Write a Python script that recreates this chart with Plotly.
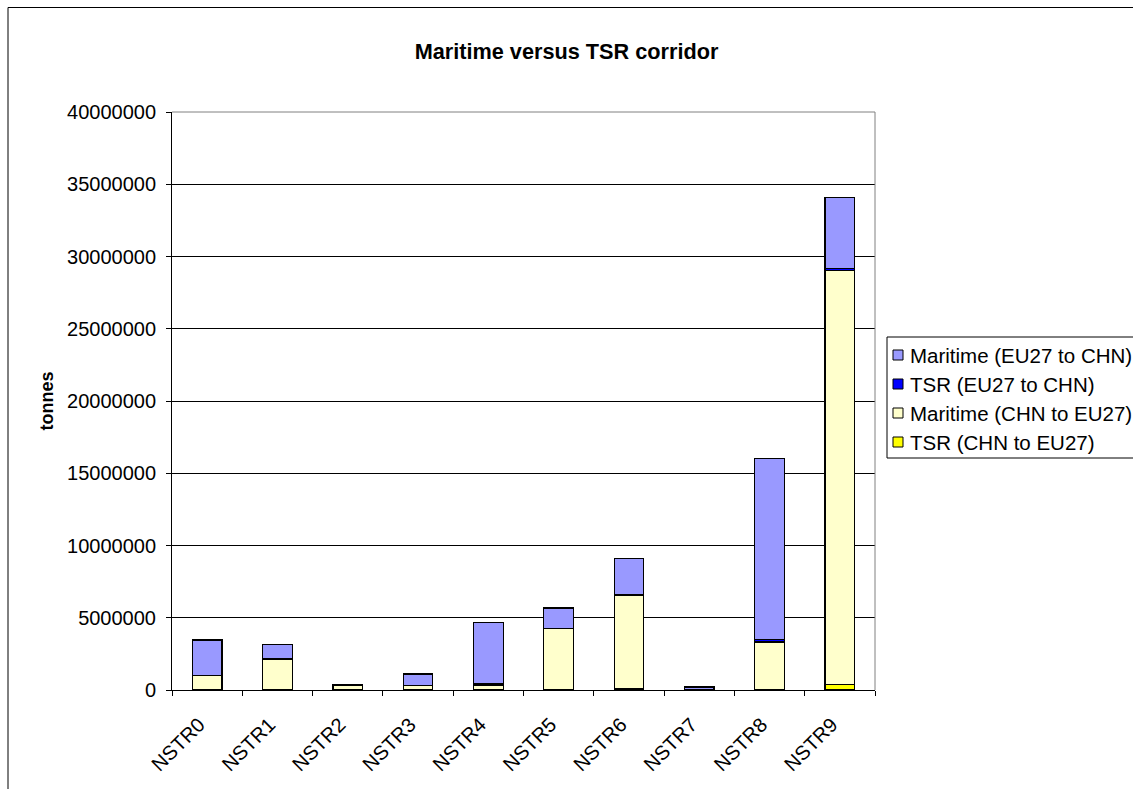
import plotly.graph_objects as go

categories = ["NSTR0", "NSTR1", "NSTR2", "NSTR3", "NSTR4",
              "NSTR5", "NSTR6", "NSTR7", "NSTR8", "NSTR9"]

# tonnes per commodity group, stacked bottom to top
tsr_chn_eu27 = [20000, 15000, 10000, 10000, 10000, 60000, 80000, 0, 30000, 400000]
maritime_chn_eu27 = [1000000, 2120000, 280000, 300000, 300000, 4190000, 6490000, 20000, 3290000, 28620000]
tsr_eu27_chn = [10000, 10000, 20000, 10000, 100000, 10000, 10000, 10000, 200000, 150000]
maritime_eu27_chn = [2430000, 1000000, 80000, 790000, 4270000, 1410000, 2530000, 180000, 12490000, 4910000]

series_names = ["TSR (CHN to EU27)", "Maritime (CHN to EU27)",
                "TSR (EU27 to CHN)", "Maritime (EU27 to CHN)"]
series_values = [tsr_chn_eu27, maritime_chn_eu27, tsr_eu27_chn, maritime_eu27_chn]
series_colors = ["#FFFF00", "#FFFFCC", "#0000FF", "#9999FF"]

font = "Arial, Liberation Sans, sans-serif"

# plot area in pixels, used to place the hand-drawn legend
W, H = 1133, 789
L, R, T, B = 172, 258, 112, 99
pw, ph = W - L - R, H - T - B


def px(x):
    return (x - L) / pw


def py(y):
    return (H - B - y) / ph


fig = go.Figure()
for name, vals, color in zip(series_names, series_values, series_colors):
    fig.add_trace(go.Bar(
        x=categories, y=vals, name=name, showlegend=False,
        marker=dict(color=color, line=dict(color="black", width=1.2)),
    ))

shapes = [
    # grey plot-area frame on top and right
    dict(type="line", xref="paper", yref="paper", x0=0, x1=1, y0=1, y1=1,
         line=dict(color="#808080", width=1)),
    dict(type="line", xref="paper", yref="paper", x0=1, x1=1, y0=0, y1=1,
         line=dict(color="#808080", width=1)),
    # outer chart frame
    dict(type="rect", xref="paper", yref="paper",
         x0=px(8), x1=1.5, y0=-0.5, y1=py(7.5),
         line=dict(color="black", width=1), layer="below"),
    # legend box
    dict(type="rect", xref="paper", yref="paper",
         x0=px(887), x1=px(1200), y0=py(458), y1=py(337),
         line=dict(color="black", width=1), fillcolor="white"),
]
annotations = []

# legend rows, top to bottom in reverse stacking order
row_y = [355, 384, 413, 442]
for i, (name, color) in enumerate(zip(series_names[::-1], series_colors[::-1])):
    yc = row_y[i]
    shapes.append(dict(type="rect", xref="paper", yref="paper",
                       x0=px(893), x1=px(903), y0=py(yc + 5), y1=py(yc - 5),
                       line=dict(color="black", width=1), fillcolor=color))
    annotations.append(dict(text=name, xref="paper", yref="paper",
                            x=px(908), y=py(yc), xanchor="left", yanchor="middle",
                            showarrow=False,
                            font=dict(family=font, size=20.5, color="black")))

fig.update_layout(
    width=W, height=H,
    barmode="stack", bargap=0.58,
    paper_bgcolor="white", plot_bgcolor="white",
    margin=dict(l=L, r=R, t=T, b=B, autoexpand=False),
    font=dict(family=font, size=20, color="black"),
    title=dict(text="<b>Maritime versus TSR corridor</b>", x=0.5, xanchor="center",
               xref="container", y=1 - 51 / H, yanchor="middle",
               font=dict(family=font, size=21.7, color="black")),
    showlegend=False,
    xaxis=dict(type="category", tickangle=-45, tickson="boundaries",
               ticks="outside", ticklen=5, tickcolor="black",
               ticklabelstandoff=14, ticklabelshift=-8,
               showline=True, linecolor="black", linewidth=1,
               mirror=False, showgrid=False,
               tickfont=dict(family=font, size=20, color="black")),
    yaxis=dict(range=[0, 40000000], dtick=5000000, tickformat="d",
               ticks="outside", ticklen=5, tickcolor="black",
               ticklabelstandoff=6,
               showline=True, linecolor="black", linewidth=1,
               showgrid=True, gridcolor="black", gridwidth=1,
               zeroline=False,
               title=dict(text="<b>tonnes</b>", standoff=8,
                          font=dict(family=font, size=18, color="black")),
               tickfont=dict(family=font, size=20, color="black")),
    shapes=shapes,
    annotations=annotations,
)

fig.write_html("out.html")
